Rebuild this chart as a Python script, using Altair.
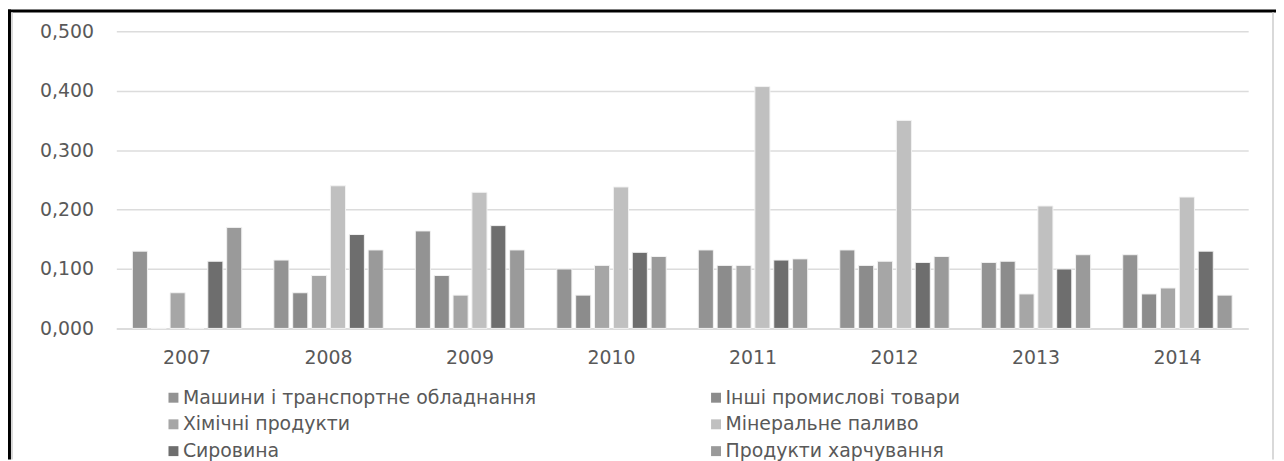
import altair as alt
import pandas as pd

years = ["2007", "2008", "2009", "2010", "2011", "2012", "2013", "2014"]
series = [
    "Машини і транспортне обладнання",
    "Інші промислові товари",
    "Хімічні продукти",
    "Мінеральне паливо",
    "Сировина",
    "Продукти харчування",
]
mashyny = [0.130, 0.115, 0.164, 0.100, 0.132, 0.132, 0.111, 0.124]
inshi = [0.000, 0.060, 0.089, 0.056, 0.106, 0.106, 0.113, 0.058]
khimichni = [0.060, 0.089, 0.056, 0.106, 0.106, 0.113, 0.058, 0.068]
mineralne = [0.000, 0.240, 0.229, 0.238, 0.407, 0.350, 0.206, 0.221]
syrovyna = [0.113, 0.158, 0.173, 0.128, 0.115, 0.111, 0.100, 0.130]
produkty = [0.170, 0.132, 0.132, 0.121, 0.117, 0.121, 0.124, 0.056]
colors = ["#939393", "#8c8c8c", "#a6a6a6", "#c0c0c0", "#6e6e6e", "#9a9a9a"]

values = [mashyny, inshi, khimichni, mineralne, syrovyna, produkty]
rows = []
for s, vals in zip(series, values):
    for y, v in zip(years, vals):
        rows.append({"year": y, "series": s, "value": v})
df = pd.DataFrame(rows)

# legend is filled column by column: order entries so rows read s1 s2 / s3 s4 / s5 s6
legend_order = [0, 2, 4, 1, 3, 5]
leg_domain = [series[i] for i in legend_order]
leg_range = [colors[i] for i in legend_order]

FONT = "DejaVu Sans"
TXT = "#595959"

bars = alt.Chart(df).mark_bar(stroke="#f2f2f2", strokeWidth=1).encode(
    x=alt.X("year:N", sort=years, title=None,
            scale=alt.Scale(paddingInner=0.2, paddingOuter=0.1),
            axis=alt.Axis(labelAngle=0, ticks=False, domainColor="#d9d9d9",
                          domainWidth=1.5, labelPadding=20, labelFontSize=19,
                          labelFont=FONT, labelColor=TXT, grid=False)),
    xOffset=alt.XOffset("series:N", sort=series,
                        scale=alt.Scale(paddingInner=0.2, paddingOuter=0.1)),
    y=alt.Y("value:Q", title=None,
            scale=alt.Scale(domain=[0, 0.5], nice=False),
            axis=alt.Axis(values=[0, 0.1, 0.2, 0.3, 0.4, 0.5], domain=False,
                          ticks=False, labelPadding=23, labelFontSize=19,
                          labelFont=FONT, labelColor=TXT, gridColor="#dcdcdc",
                          gridWidth=1.5,
                          labelExpr="replace(format(datum.value, '.3f'), '.', ',')")),
    color=alt.Color("series:N",
                    scale=alt.Scale(domain=leg_domain, range=leg_range),
                    legend=alt.Legend(title=None, orient="none", legendX=48,
                                      legendY=359, columns=2, columnPadding=171,
                                      rowPadding=7, symbolType="square",
                                      symbolSize=100, symbolStrokeWidth=0,
                                      labelOffset=0, labelFontSize=19,
                                      labelFont=FONT, labelColor=TXT,
                                      labelLimit=500, padding=0)),
)

one = alt.Data(values=[{}])
frame_top = alt.Chart(one).mark_rule(color="black", strokeWidth=3).encode(
    x=alt.value(-109), x2=alt.value(1167), y=alt.value(-20.5))
frame_left = alt.Chart(one).mark_rule(color="black", strokeWidth=3).encode(
    x=alt.value(-107.5), y=alt.value(-22), y2=alt.value(431))
frame_inner = alt.Chart(one).mark_rule(color="#d9d9d9", strokeWidth=2).encode(
    x=alt.value(-105), y=alt.value(-19), y2=alt.value(431))
frame_right = alt.Chart(one).mark_rule(color="#d9d9d9", strokeWidth=2).encode(
    x=alt.value(1164), y=alt.value(-19), y2=alt.value(431))

chart = alt.layer(bars, frame_top, frame_left, frame_inner, frame_right).properties(
    width=1139, height=299,
    padding={"left": 109, "top": 22, "right": 28, "bottom": 132},
    autosize="none",
).configure(background="white").configure_view(stroke=None)

chart.save("out.html", embed_options={"renderer": "svg", "actions": False})
